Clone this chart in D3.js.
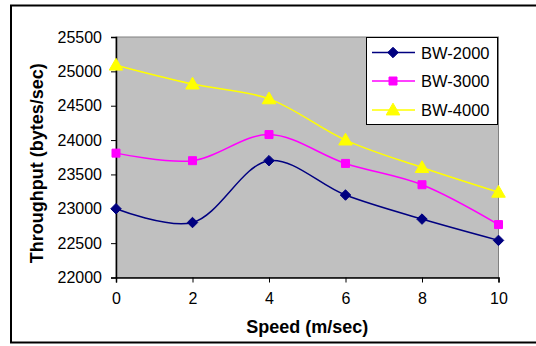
<!DOCTYPE html>
<html>
<head>
<meta charset="utf-8">
<script src="https://cdn.jsdelivr.net/npm/d3@7"></script>
<style>
  html, body { margin: 0; padding: 0; background: #ffffff; }
  svg { display: block; }
  text { font-family: Arial, "Liberation Sans", sans-serif; fill: #000; }
</style>
</head>
<body>
<svg id="chart" width="536" height="346"></svg>
<script>
// Throughput vs. node speed for three bandwidth settings
const speeds = [0, 2, 4, 6, 8, 10];
const seriesNames = ["BW-2000", "BW-3000", "BW-4000"];
const bw2000 = [23000, 22800, 23700, 23200, 22850, 22540];
const bw3000 = [23810, 23700, 24080, 23660, 23350, 22770];
const bw4000 = [25090, 24815, 24600, 24000, 23600, 23240];
const yTicks = [22000, 22500, 23000, 23500, 24000, 24500, 25000, 25500];
const xTicks = [0, 2, 4, 6, 8, 10];
const colors = ["#000080", "#ff00ff", "#ffff00"];
const markerTypes = [d3.symbolDiamond2, d3.symbolSquare, d3.symbolTriangle];

const series = [bw2000, bw3000, bw4000].map((vals, i) => ({
  name: seriesNames[i],
  color: colors[i],
  symbol: markerTypes[i],
  points: speeds.map((s, j) => ({ x: s, y: vals[j] }))
}));

const svg = d3.select("#chart");
const plot = { left: 116, top: 37, right: 498.5, bottom: 277.5 };

const x = d3.scaleLinear().domain([0, 10]).range([plot.left, plot.right]);
const y = d3.scaleLinear().domain([22000, 25500]).range([plot.bottom, plot.top]);

// outer chart frame (right side runs past the page edge)
svg.append("rect")
  .attr("x", 11).attr("y", 5.5)
  .attr("width", 560).attr("height", 337)
  .attr("fill", "#ffffff")
  .attr("stroke", "#000").attr("stroke-width", 2);

// plot area
svg.append("rect")
  .attr("x", plot.left).attr("y", plot.top)
  .attr("width", plot.right - plot.left).attr("height", plot.bottom - plot.top)
  .attr("fill", "#c0c0c0")
  .attr("stroke", "#808080").attr("stroke-width", 1);

// y axis
const yAxis = svg.append("g")
  .attr("transform", `translate(${plot.left},0)`)
  .call(d3.axisLeft(y).tickValues(yTicks).tickFormat(d3.format("d")).tickSize(5).tickPadding(9));
yAxis.select(".domain").attr("stroke", "#000").attr("stroke-width", 1.5);
yAxis.selectAll(".tick line").attr("stroke", "#000");
yAxis.selectAll(".tick text").attr("font-size", "16px").attr("font-family", "Arial, 'Liberation Sans', sans-serif");

// x axis
const xAxis = svg.append("g")
  .attr("transform", `translate(0,${plot.bottom})`)
  .call(d3.axisBottom(x).tickValues(xTicks).tickFormat(d3.format("d")).tickSize(5).tickPadding(10));
xAxis.select(".domain").attr("stroke", "#000").attr("stroke-width", 1.5);
xAxis.selectAll(".tick line").attr("stroke", "#000");
xAxis.selectAll(".tick text").attr("font-size", "16px").attr("font-family", "Arial, 'Liberation Sans', sans-serif");

// axis titles
svg.append("text")
  .attr("x", (plot.left + plot.right) / 2).attr("y", 333)
  .attr("text-anchor", "middle")
  .attr("font-size", "18px").attr("font-weight", "bold")
  .text("Speed (m/sec)");

svg.append("text")
  .attr("transform", `translate(43,${(plot.top + plot.bottom) / 2 + 6}) rotate(-90)`)
  .attr("text-anchor", "middle")
  .attr("font-size", "18px").attr("font-weight", "bold")
  .text("Throughput (bytes/sec)");

// smoothed lines
const line = d3.line()
  .x(d => x(d.x)).y(d => y(d.y))
  .curve(d3.curveCatmullRom.alpha(0.5));

const g = svg.append("g");
series.forEach(s => {
  g.append("path")
    .datum(s.points)
    .attr("fill", "none")
    .attr("stroke", s.color)
    .attr("stroke-width", 1.5)
    .attr("d", line);
});

// markers
const markerSize = [70, 64, 80];
series.forEach((s, i) => {
  g.selectAll(null)
    .data(s.points)
    .enter().append("path")
    .attr("transform", d => `translate(${x(d.x)},${y(d.y) + (i === 2 ? 1 : 0)})`)
    .attr("d", d3.symbol().type(s.symbol).size(markerSize[i]))
    .attr("fill", s.color)
    .attr("stroke", s.color);
});

// legend
const legend = svg.append("g");
legend.append("rect")
  .attr("x", 366.5).attr("y", 37.5)
  .attr("width", 131).attr("height", 87)
  .attr("fill", "#ffffff")
  .attr("stroke", "#000").attr("stroke-width", 1);

const legendY = [52.5, 81, 110];
series.forEach((s, i) => {
  const ly = legendY[i];
  legend.append("line")
    .attr("x1", 372).attr("x2", 415)
    .attr("y1", ly).attr("y2", ly)
    .attr("stroke", s.color).attr("stroke-width", 1.5);
  legend.append("path")
    .attr("transform", `translate(393,${ly + (i === 2 ? 1 : 0)})`)
    .attr("d", d3.symbol().type(s.symbol).size(markerSize[i]))
    .attr("fill", s.color)
    .attr("stroke", s.color);
  legend.append("text")
    .attr("x", 421).attr("y", ly + 6)
    .attr("font-size", "16.5px")
    .text(s.name);
});
</script>
</body>
</html>
